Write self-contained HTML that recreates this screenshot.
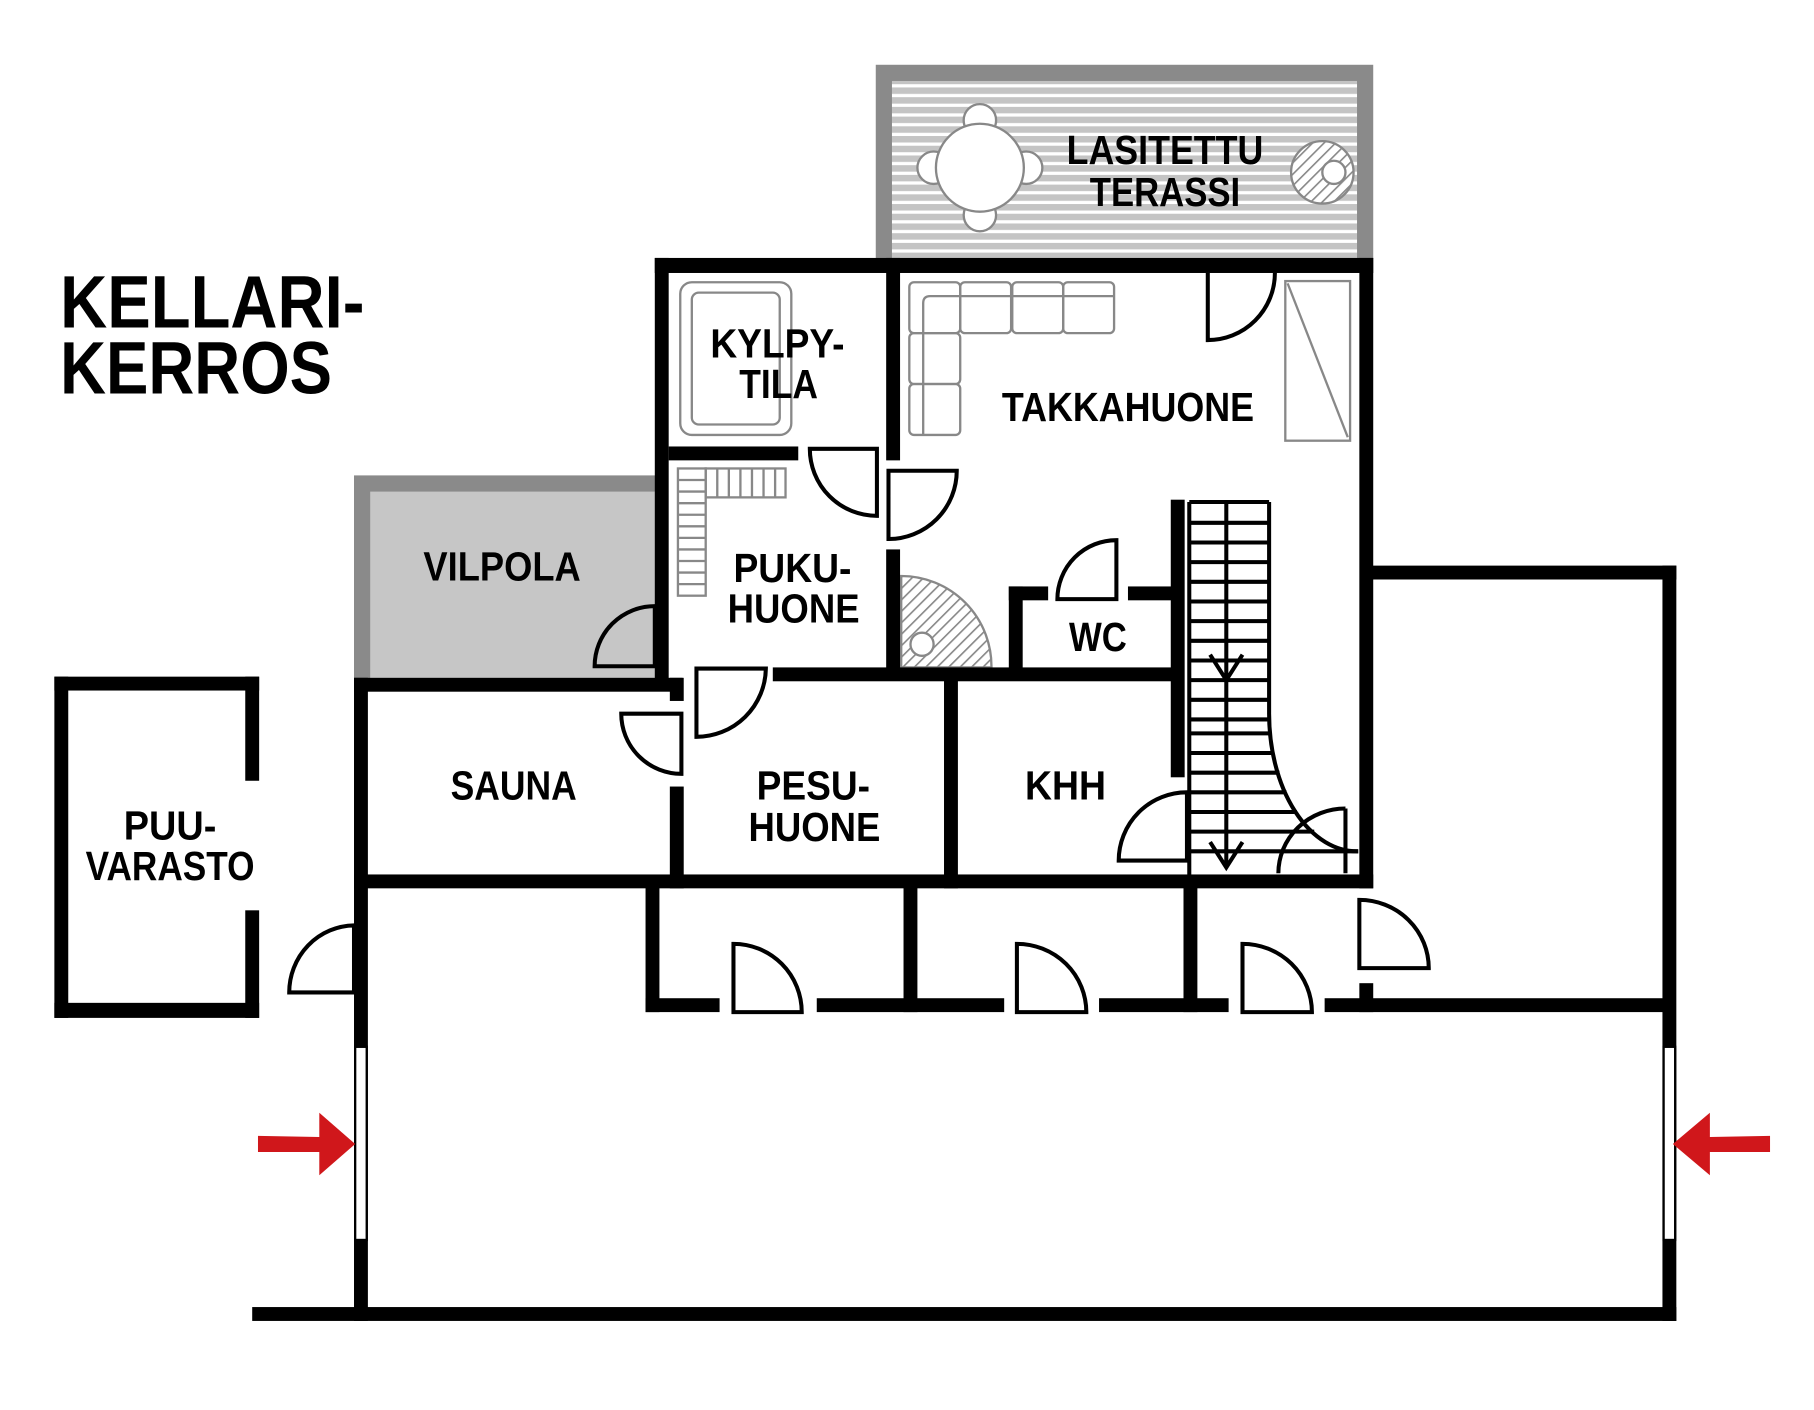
<!DOCTYPE html>
<html><head><meta charset="utf-8"><style>
html,body{margin:0;padding:0;background:#fff;width:1814px;height:1410px;overflow:hidden}
svg{display:block}
text{font-family:"Liberation Sans Narrow","Liberation Sans",sans-serif;font-weight:bold;fill:#000}
</style></head><body>
<svg width="1814" height="1410" viewBox="0 0 1568 1219" preserveAspectRatio="none" xmlns="http://www.w3.org/2000/svg">
<defs>
<pattern id="stripes" width="10" height="8.4" patternUnits="userSpaceOnUse">
<rect width="10" height="8.4" fill="#fff"/><rect width="10" height="5.6" fill="#c4c4c4"/>
</pattern>
<pattern id="hatch" width="7" height="7" patternUnits="userSpaceOnUse" patternTransform="rotate(45)">
<rect width="7" height="7" fill="#fff"/><rect width="1.4" height="7" fill="#888"/>
</pattern>
</defs>

<!-- terrace -->
<rect x="757" y="56" width="430" height="168" fill="#8a8a8a"/>
<rect x="771" y="70" width="402" height="154" fill="url(#stripes)"/>
<g fill="#fff" stroke="#888" stroke-width="2">
<circle cx="847" cy="104" r="14"/><circle cx="847" cy="186" r="14"/>
<circle cx="807" cy="145" r="14"/><circle cx="887" cy="145" r="14"/>
<circle cx="847" cy="145" r="38"/>
<circle cx="1143" cy="149" r="27" fill="url(#hatch)"/>
<circle cx="1153" cy="149" r="10"/>
</g>

<!-- vilpola -->
<rect x="306" y="411" width="266" height="176" fill="#8a8a8a"/>
<rect x="320" y="425" width="252" height="162" fill="#c6c6c6"/>

<!-- furniture gray -->
<g fill="none" stroke="#888" stroke-width="2">
<rect x="588" y="244" width="96" height="132" rx="10"/>
<rect x="598" y="253" width="76" height="114" rx="6"/>
<rect x="786" y="244" width="44" height="44" rx="4"/>
<rect x="830" y="244" width="44" height="44" rx="4"/>
<rect x="875" y="244" width="44" height="44" rx="4"/>
<rect x="919" y="244" width="44" height="44" rx="4"/>
<rect x="786" y="288" width="44" height="44" rx="4"/>
<rect x="786" y="332" width="44" height="44" rx="4"/>
<path d="M798,376 V262 Q798,256 804,256 H963"/>
<rect x="1111" y="243" width="56" height="138"/>
<path d="M1113,245 L1165,378"/>
<rect x="586" y="405" width="24" height="110"/>
<path d="M586,415 H610 M586,425 H610 M586,435 H610 M586,445 H610 M586,455 H610 M586,465 H610 M586,475 H610 M586,485 H610 M586,495 H610 M586,505 H610"/>
<rect x="610" y="405" width="69" height="25"/>
<path d="M620,405 V430 M630,405 V430 M640,405 V430 M650,405 V430 M660,405 V430 M670,405 V430"/>
</g>
<path d="M779,577 V498 A78,78 0 0 1 857,577 Z" fill="url(#hatch)" stroke="#888" stroke-width="2"/>
<circle cx="797" cy="557" r="10" fill="#fff" stroke="#888" stroke-width="2"/>

<!-- stairs -->
<g stroke="#000" stroke-width="3.5" fill="none">
<path d="M1097,434 V616 A76,119 0 0 0 1174,736"/>
<path d="M1028,434 H1097 M1028,452 H1097 M1028,469 H1097 M1028,486 H1097 M1028,503 H1097 M1028,520 H1097 M1028,537 H1097 M1028,554 H1097 M1028,571 H1097 M1028,588 H1097 M1028,605 H1097 M1028,622 H1097"/>
<path d="M1028,634 H1099 M1028,651 H1101 M1028,668 H1106 M1028,685 H1112 M1028,702 H1121 M1028,719 H1136 M1028,736 H1174"/>
<path d="M1028,434 V758 M1060,434 V750 M1046,566 L1060,588 L1074,566 M1046,728 L1060,750 L1074,728"/>
</g>

<!-- walls -->
<g fill="#000">
<rect x="566" y="223" width="621" height="13"/>
<rect x="566" y="223" width="12" height="364"/>
<rect x="1175" y="223" width="12" height="545"/>
<rect x="766" y="223" width="12" height="175"/>
<rect x="766" y="475" width="12" height="108"/>
<rect x="578" y="386" width="112" height="12"/>
<rect x="306" y="586" width="284" height="12"/>
<rect x="579" y="586" width="12" height="20"/>
<rect x="579" y="680" width="12" height="88"/>
<rect x="668" y="577" width="352" height="12"/>
<rect x="816" y="583" width="12" height="185"/>
<rect x="872" y="507" width="12" height="76"/>
<rect x="872" y="507" width="34" height="12"/>
<rect x="975" y="507" width="45" height="12"/>
<rect x="1012" y="432" width="12" height="240"/>
<rect x="306" y="756" width="881" height="12"/>
<rect x="306" y="586" width="12" height="556"/>
<rect x="218" y="1130" width="1231" height="12"/>
<rect x="1181" y="489" width="268" height="12"/>
<rect x="1437" y="489" width="12" height="653"/>
<rect x="558" y="863" width="64" height="12"/>
<rect x="706" y="863" width="162" height="12"/>
<rect x="950" y="863" width="112" height="12"/>
<rect x="1145" y="863" width="298" height="12"/>
<rect x="558" y="762" width="12" height="113"/>
<rect x="781" y="762" width="12" height="113"/>
<rect x="1023" y="762" width="12" height="113"/>
<rect x="1175" y="850" width="12" height="25"/>
<rect x="47" y="585" width="177" height="12"/>
<rect x="47" y="585" width="12" height="295"/>
<rect x="47" y="867" width="177" height="13"/>
<rect x="212" y="585" width="12" height="90"/>
<rect x="212" y="787" width="12" height="93"/>
</g>
<!-- windows -->
<rect x="307" y="905" width="10" height="167" fill="#fff" stroke="#000" stroke-width="2"/>
<rect x="1438" y="905" width="10" height="167" fill="#fff" stroke="#000" stroke-width="2"/>

<!-- doors -->
<g fill="#fff" stroke="#000" stroke-width="3.5">
<path d="M566,524 A52,52 0 0 0 514,576 H566 Z" fill="#c6c6c6"/>
<path d="M700,388 A58,58 0 0 0 758,446 V388 Z"/>
<path d="M768,466 V407 H827 A59,59 0 0 1 768,466 Z"/>
<path d="M602,637 V578 H662 A60,60 0 0 1 602,637 Z"/>
<path d="M537,617 H589 V669 A52,52 0 0 1 537,617 Z"/>
<path d="M914,518 H965 V467 A51,51 0 0 0 914,518 Z"/>
<path d="M1044,236 V294 A58,58 0 0 0 1102,236"/>
<path d="M1026,685 A59,59 0 0 0 967,744 H1026 Z"/>
<path d="M1163,699 A58,56 0 0 0 1105,755 M1163,699 V755" fill="none"/>
<path d="M634,875 V816 A59,59 0 0 1 693,875 Z"/>
<path d="M879,875 V816 A60,59 0 0 1 939,875 Z"/>
<path d="M1074,875 V816 A60,59 0 0 1 1134,875 Z"/>
<path d="M1175,778 V837 H1235 A60,59 0 0 0 1175,778 Z"/>
<path d="M306,800 A57,58 0 0 0 250,858 H306 Z"/>
</g>

<!-- arrows -->
<g fill="#d0171b">
<polygon points="223,982 276,983 276,962 307,989 276,1016 276,996 223,996"/>
<polygon points="1530,982 1478,983 1478,962 1446,989 1478,1016 1478,996 1530,996"/>
</g>

<!-- labels -->
<text x="52" y="283" font-size="64" textLength="263" lengthAdjust="spacingAndGlyphs">KELLARI-</text>
<text x="52" y="340" font-size="64" textLength="235" lengthAdjust="spacingAndGlyphs">KERROS</text>
<g font-size="35" text-anchor="middle">
<text x="1007" y="142" textLength="170" lengthAdjust="spacingAndGlyphs">LASITETTU</text>
<text x="1007" y="178" textLength="130" lengthAdjust="spacingAndGlyphs">TERASSI</text>
<text x="672" y="309" textLength="116" lengthAdjust="spacingAndGlyphs">KYLPY-</text>
<text x="673" y="344" textLength="68" lengthAdjust="spacingAndGlyphs">TILA</text>
<text x="975" y="364" textLength="218" lengthAdjust="spacingAndGlyphs">TAKKAHUONE</text>
<text x="434" y="502" textLength="136" lengthAdjust="spacingAndGlyphs">VILPOLA</text>
<text x="685" y="503" textLength="102" lengthAdjust="spacingAndGlyphs">PUKU-</text>
<text x="686" y="538" textLength="114" lengthAdjust="spacingAndGlyphs">HUONE</text>
<text x="949" y="563" textLength="50" lengthAdjust="spacingAndGlyphs">WC</text>
<text x="444" y="691" textLength="109" lengthAdjust="spacingAndGlyphs">SAUNA</text>
<text x="703" y="691" textLength="98" lengthAdjust="spacingAndGlyphs">PESU-</text>
<text x="704" y="727" textLength="114" lengthAdjust="spacingAndGlyphs">HUONE</text>
<text x="921" y="691" textLength="70" lengthAdjust="spacingAndGlyphs">KHH</text>
<text x="147" y="726" textLength="80" lengthAdjust="spacingAndGlyphs">PUU-</text>
<text x="147" y="761" textLength="146" lengthAdjust="spacingAndGlyphs">VARASTO</text>
</g>
</svg>
</body></html>
